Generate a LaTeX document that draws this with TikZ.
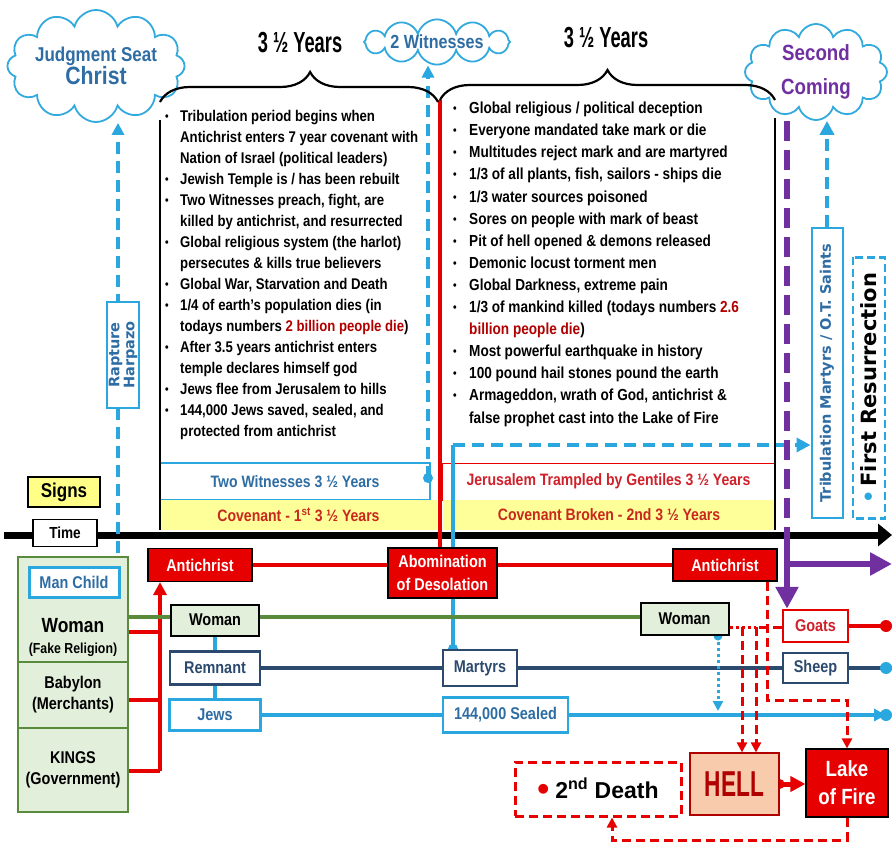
\documentclass[tikz,border=0pt]{standalone}
\usepackage{fontspec}
\setmainfont[FakeStretch=0.85]{Liberation Sans}
\newfontfamily\tallsans[FakeStretch=0.63]{Liberation Sans}
\newfontfamily\plainsans{Liberation Sans}
\newfontfamily\versans{DejaVu Sans}
\usetikzlibrary{arrows.meta}
\usetikzlibrary{calc}
\usetikzlibrary{shapes.symbols}
\usetikzlibrary{decorations.pathreplacing}

\definecolor{cloudblue}{HTML}{33AADD}
\definecolor{steel}{HTML}{2E6DA4}
\definecolor{navy}{HTML}{2C4A6E}
\definecolor{skyline}{HTML}{2AA7DF}
\definecolor{redfill}{HTML}{E60000}
\definecolor{darkred}{HTML}{B00000}
\definecolor{crimson}{HTML}{D0202A}
\definecolor{rust}{HTML}{C8281E}
\definecolor{leaf}{HTML}{5A8A3C}
\definecolor{leaffill}{HTML}{E2EFDA}
\definecolor{barfill}{HTML}{FFFF99}
\definecolor{signfill}{HTML}{FFFF88}
\definecolor{plum}{HTML}{7030A0}
\definecolor{hellfill}{HTML}{F8CBAD}

\newcommand{\fsz}[2]{\fontsize{#1}{#2}\selectfont}
\newcommand{\dotitem}{\hspace{3pt}\raisebox{1pt}{\fsz{12}{12}\textbullet}}

\pgfdeclarelayer{bars}
\pgfdeclarelayer{lines}
\pgfsetlayers{bars,lines,main}

\tikzset{
  lbl/.style={font=\fsz{17}{21}\bfseries, inner sep=0pt, align=center},
  sz/.style 2 args={minimum width=#1, minimum height=#2},
  puff/.style={cloud, cloud puffs=12, cloud ignores aspect, draw=cloudblue, line width=1.8pt, fill=white, align=center, inner sep=0pt},
  redbox/.style={lbl, draw=black, line width=1.2pt, fill=redfill, text=white},
  leafbox/.style={lbl, draw=leaf, line width=2.5pt, fill=leaffill},
  edgebox/.style={lbl, draw=#1, line width=2.5pt, fill=white},
  bar/.style={inner sep=0pt, font=\fsz{16.5}{20}\bfseries},
  brace/.style={decorate, decoration={brace, amplitude=30pt, aspect=#1}, line width=2.2pt},
  redln/.style={draw=redfill, line width=3.5pt},
  leafln/.style={draw=leaf, line width=3.5pt},
  navyln/.style={draw=navy, line width=3.5pt},
  skyln/.style={draw=skyline, line width=3.5pt},
  bluedash/.style={draw=skyline, line width=4pt, dash pattern=on 12pt off 7pt},
  reddash/.style={draw=redfill, line width=3pt, dash pattern=on 9pt off 5pt},
  plumln/.style={draw=plum, line width=6pt},
  tip/.style={-{Triangle[length=#1, width=#1]}},
  tip/.default=11pt
}

\begin{document}
\begin{tikzpicture}[x=1pt,y=-1pt]
\useasboundingbox (0,0) rectangle (892,845);

% clouds and headings
\node[puff, sz={164}{112}, text=steel] (judge) at (96,66) {{\fsz{20}{26}\bfseries Judgment Seat}\\{\fsz{25}{28}\bfseries Christ}};
\node[puff, sz={146}{44}, text=steel, font=\fsz{19}{22}\bfseries] (witness) at (437,42) {2 Witnesses};
\node[puff, sz={142}{96}, text=plum, font=\fsz{22}{34}\bfseries] (second) at (816,72) {Second\\Coming};
\node[font=\tallsans\fsz{29}{32}\bfseries] (yrsA) at (300,43) {3 ½ Years};
\node[font=\tallsans\fsz{29}{32}\bfseries] (yrsB) at (606,38) {3 ½ Years};
\coordinate (bA1) at (160,102);
\coordinate (bA2) at (438,102);
\coordinate (bB1) at (440,100);
\coordinate (bB2) at (775,100);
\draw[brace=0.54] (bA1) -- (bA2);
\draw[brace=0.5] (bB1) -- (bB2);

% event lists
\node[anchor=north west, inner sep=0pt, font=\fsz{15.5}{21}\bfseries] (listA) at (162,107) {%
\begin{tabular}{@{}p{18pt}@{}l@{}}
\dotitem & Tribulation period begins when\\
 & Antichrist enters 7 year covenant with\\
 & Nation of Israel (political leaders)\\
\dotitem & Jewish Temple is / has been rebuilt\\
\dotitem & Two Witnesses preach, fight, are\\
 & killed by antichrist, and resurrected\\
\dotitem & Global religious system (the harlot)\\
 & persecutes \& kills true believers\\
\dotitem & Global War, Starvation and Death\\
\dotitem & 1/4 of earth’s population dies (in\\
 & todays numbers \textcolor{darkred}{2 billion people die})\\
\dotitem & After 3.5 years antichrist enters\\
 & temple declares himself god\\
\dotitem & Jews flee from Jerusalem to hills\\
\dotitem & 144,000 Jews saved, sealed, and\\
 & protected from antichrist
\end{tabular}};
\node[anchor=north west, inner sep=0pt, font=\fsz{16}{22.1}\bfseries] (listB) at (450,98) {%
\begin{tabular}{@{}p{19pt}@{}l@{}}
\dotitem & Global religious / political deception\\
\dotitem & Everyone mandated take mark or die\\
\dotitem & Multitudes reject mark and are martyred\\
\dotitem & 1/3 of all plants, fish, sailors - ships die\\
\dotitem & 1/3 water sources poisoned\\
\dotitem & Sores on people with mark of beast\\
\dotitem & Pit of hell opened \& demons released\\
\dotitem & Demonic locust torment men\\
\dotitem & Global Darkness, extreme pain\\
\dotitem & 1/3 of mankind killed (todays numbers \textcolor{darkred}{2.6}\\
 & \textcolor{darkred}{billion people die})\\
\dotitem & Most powerful earthquake in history\\
\dotitem & 100 pound hail stones pound the earth\\
\dotitem & Armageddon, wrath of God, antichrist \&\\
 & false prophet cast into the Lake of Fire
\end{tabular}};

% period bars and time line
\begin{pgfonlayer}{bars}
\node[bar, draw=skyline, line width=1.5pt, fill=white, text=steel, sz={270}{37}] (barWit) at (295,481.5) {Two Witnesses 3 ½ Years};
\node[bar, draw=redfill, line width=1pt, fill=white, text=crimson, sz={333}{37}] (barJer) at (608.5,481.5) {Jerusalem Trampled by Gentiles 3 ½ Years};
\node[bar, fill=barfill, text=rust, sz={277}{30}] (barCovA) at (298.5,515) {Covenant - 1\textsuperscript{st} 3 ½ Years};
\node[bar, fill=barfill, text=rust, sz={332}{30}] (barCovB) at (609,515) {Covenant Broken - 2nd 3 ½ Years};
\draw[line width=2pt] (barCovA.south west) -- ++(0,-410);
\draw[line width=2pt] (barCovB.south east) -- ++(0,-412);
\coordinate (axisL) at (4,535);
\coordinate (axisR) at (892,535);
\draw[line width=7pt, -{Triangle[length=14pt, width=22pt]}] (axisL) -- (axisR);
\end{pgfonlayer}

\node[lbl, draw=black, line width=1.5pt, fill=signfill, sz={72}{30}, font=\fsz{20}{22}\bfseries] (signs) at (64,492) {Signs};
\node[lbl, draw=black, line width=1.5pt, fill=white, sz={64}{27}, font=\fsz{16}{18}\bfseries] (time) at (65,533) {Time};
\node[edgebox=skyline, line width=2pt, rotate=90, sz={106}{32}, text=steel, font=\versans\fsz{14.5}{15}\bfseries] (rapture) at (123,355) {Rapture\\Harpazo};
\node[edgebox=skyline, line width=2pt, rotate=90, sz={290}{31}, text=steel, font=\versans\fsz{14.5}{16}\bfseries] (tribbox) at (827,373) {Tribulation Martyrs / O.T. Saints};
\node[lbl, draw=skyline, fill=white, dash pattern=on 8pt off 4pt, line width=2.5pt, rotate=90, sz={261}{32}, font=\versans\fsz{21}{24}\bfseries] (firstres) at (869,388) {\textcolor{skyline}{\textbullet}\,First Resurrection};

% groups on the left
\node[leafbox, sz={110}{105}] (grpWoman) at (73,609.5) {};
\node[leafbox, sz={110}{66}] (grpBaby) at (73,695) {Babylon\\(Merchants)};
\node[leafbox, sz={110}{84}] (grpKings) at (73,770) {KINGS\\(Government)};
\node[lbl] (womanTxt) at (73,637) {{\fsz{20.5}{24}\bfseries Woman}\\{\fsz{14.5}{16}(Fake Religion)}};
\node[edgebox=skyline, line width=3pt, sz={90}{30}, text=steel] (manchild) at (74,582) {Man Child};

% actors
\node[redbox, sz={104}{33}] (antiA) at (200,565) {Antichrist};
\node[redbox, sz={109}{50}, font=\fsz{17}{23}\bfseries] (abom) at (442.5,573) {Abomination\\of Desolation};
\node[redbox, sz={104}{32}] (antiB) at (725,565) {Antichrist};
\node[leafbox, draw=black, line width=2pt, sz={88}{31}] (womanA) at (215,620) {Woman};
\node[edgebox=navy, sz={90}{33}, text=navy] (remnant) at (215,668) {Remnant};
\node[edgebox=skyline, sz={91}{31}, text=steel] (jews) at (215,715) {Jews};
\node[edgebox=navy, sz={74}{36}, text=navy] (martyrs) at (480,668) {Martyrs};
\node[edgebox=skyline, sz={125}{35}, text=steel] (sealed) at (505.5,715) {144,000 Sealed};
\node[leafbox, draw=black, line width=2pt, sz={88}{32}] (womanB) at (684.5,619) {Woman};
\node[edgebox=redfill, sz={65}{32}, text=crimson] (goats) at (815.5,626) {Goats};
\node[edgebox=navy, sz={65}{30}, text=navy] (sheep) at (815.5,668) {Sheep};

% end states
\node[lbl, draw=darkred, line width=1.2pt, fill=hellfill, sz={89}{62}, text=darkred, font=\tallsans\fsz{36}{40}\bfseries] (hell) at (734.5,784) {HELL};
\node[redbox, sz={82}{68}, font=\fsz{22}{28}\bfseries] (lake) at (847,783) {Lake\\of Fire};
\node[lbl, draw=redfill, fill=white, dash pattern=on 9pt off 5pt, line width=3pt, sz={166}{54}, font=\plainsans\fsz{23}{28}\bfseries] (death) at (598,789) {\textcolor{redfill}{\raisebox{-2pt}{\fsz{34}{34}\textbullet}}\hspace{6pt}2\textsuperscript{nd} Death};

\begin{pgfonlayer}{lines}
% rapture and witnesses
\coordinate (rapDot) at (118,572);
\fill[skyline] (rapDot) circle (5);
\draw[bluedash, tip=12pt] (rapDot) -- (rapDot |- judge.south);
\coordinate (witDot) at (428,478);
\fill[skyline] (witDot) circle (5);
\draw[bluedash, tip=12pt] (witDot) -- (witDot |- witness.south);
\draw[redln] (bB1) -- (bB1 |- abom.north);
% martyrs rise
\coordinate (mBend) at (453,445);
\fill[skyline] (martyrs.north -| mBend) circle (5);
\draw[skyln] (martyrs.north -| mBend) -- (mBend);
\draw[bluedash, tip=14pt] (mBend) -- (tribbox.north |- mBend);
\draw[bluedash, tip=14pt] (tribbox.east) -- (tribbox.east |- second.south);
% second coming
\coordinate (pX) at (787,540);
\coordinate (pEnd) at (892,564);
\draw[plumln, dash pattern=on 20pt off 9pt] (pX |- second.south) -- (pX);
\draw[plumln, tip=22pt] (pX) -- (pX |- goats.north);
\draw[plumln, tip=22pt] (pX |- pEnd) -- (pEnd);
% antichrist
\draw[redln] (antiA.east) -- (antiB.west);
\coordinate (brk) at (160,771);
\draw[redln] (grpKings.east |- brk) -- (brk);
\draw[redln, tip=13pt] (brk) -- (brk |- antiA.south);
\draw[redln] (grpWoman.east |- 0,632) -- (brk |- 0,632);
\draw[redln] (grpBaby.east |- 0,700) -- (brk |- 0,700);
% woman, remnant, jews
\draw[leafln] (grpWoman.east |- 0,617) -- (womanB.west |- 0,617);
\draw[skyln] (womanA) -- (jews);
\draw[navyln] (remnant) -- (martyrs) -- (sheep);
\coordinate (sheepDot) at (886,668);
\draw[navyln, tip=12pt] (sheep.east) -- ++(64,0);
\fill[skyline] (sheepDot) circle (6);
\draw[skyln] (jews) -- (sealed);
\coordinate (sealDot) at (886,715);
\draw[skyln, tip=12pt] (sealed.east) -- (sealDot);
\fill[skyline] (sealDot) circle (6);
\coordinate (goatDot) at (886,626);
\draw[redln] (goats.east) -- (goatDot);
\fill[redfill] (goatDot) circle (6);
\coordinate (wX) at (718,711);
\fill[skyline] (womanB.south -| wX) circle (4.5);
\draw[skyline, line width=3pt, dash pattern=on 3pt off 3pt, tip=10pt] (womanB.south -| wX) -- (wX);
% judgement
\coordinate (jA) at (742,627);
\coordinate (jB) at (756,627);
\draw[redfill, line width=3pt, dash pattern=on 3pt off 3pt] (womanB.east |- jA) -- (jB);
\draw[reddash] (goats.west |- jB) -- (jB);
\draw[reddash, tip=10pt] (jA) -- (jA |- hell.north);
\draw[reddash, tip=10pt] (jB) -- (jB |- hell.north);
\coordinate (aDrop) at (767,700);
\draw[reddash, tip=10pt] (antiB.south -| aDrop) -- (aDrop) -| (lake.north);
\coordinate (dLoop) at (612,840);
\draw[reddash, tip=10pt] (lake.south) |- (dLoop) -- (dLoop |- death.south);
\fill[redfill] (hell.east) circle (5);
\draw[redfill, line width=5pt, tip=15pt] (hell.east) -- (lake.west |- hell.east);
\end{pgfonlayer}
\end{tikzpicture}
\end{document}
